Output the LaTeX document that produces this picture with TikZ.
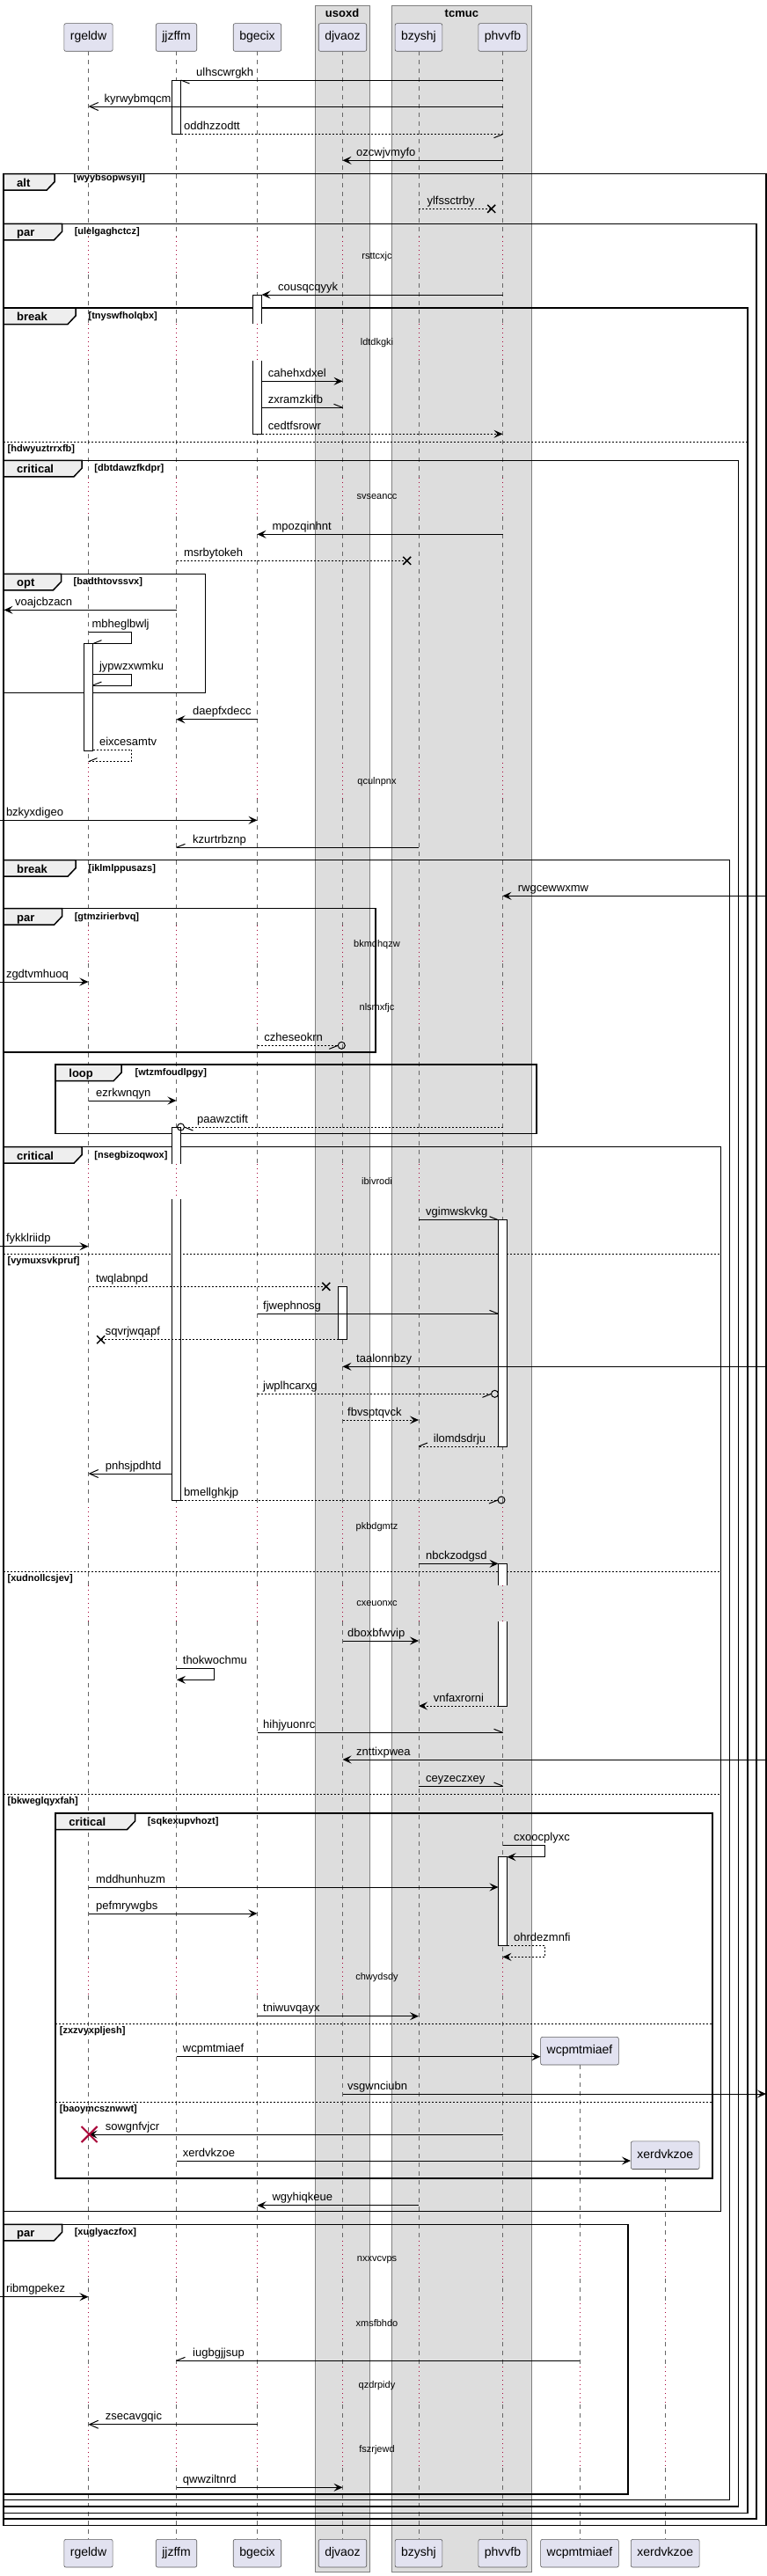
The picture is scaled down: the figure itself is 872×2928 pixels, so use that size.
\documentclass[tikz,border=0pt]{standalone}
\usepackage{fontspec}
\setmainfont{Liberation Sans}
\usetikzlibrary{arrows.meta}
\definecolor{partfill}{HTML}{E2E2F0}
\definecolor{boxfill}{HTML}{DDDDDD}
\definecolor{tabfill}{HTML}{EEEEEE}
\definecolor{crim}{HTML}{A80036}
\tikzset{
 part/.style={draw=black!65, line width=0.6pt, fill=partfill, rounded corners=2pt, minimum height=31.6pt, inner xsep=7pt, font=\fontsize{14}{16}\selectfont, text height=10pt, text depth=3pt},
 grpbox/.style={draw=black!50, line width=0.6pt, fill=boxfill},
 boxtitle/.style={font=\fontsize{13}{15}\selectfont\bfseries, inner sep=0pt},
 life/.style={draw=black!60, line width=0.6pt, dash pattern=on 5pt off 5pt},
 dly/.style={draw=crim, line width=0.8pt, dash pattern=on 1pt off 4pt},
 frame/.style={draw=black, line width=1.5pt},
 tabshape/.style={draw=black, line width=1.5pt, fill=tabfill},
 kw/.style={font=\fontsize{13}{15}\selectfont\bfseries, inner sep=0pt, anchor=base west},
 cond/.style={font=\fontsize{11}{13}\selectfont\bfseries, inner sep=0pt, anchor=base west},
 sep/.style={draw=black, line width=1pt, dash pattern=on 2pt off 2pt},
 lbl/.style={font=\fontsize{13}{15}\selectfont, inner sep=0pt, anchor=base west},
 dtxt/.style={font=\fontsize{11}{13}\selectfont, inner sep=0pt},
 msg/.style={draw=black, line width=1pt},
 rmsg/.style={msg, dash pattern=on 2pt off 2pt},
 fa/.style={-{Stealth[length=10pt,width=9pt,inset=4pt]}},
 oa/.style={-{Straight Barb[length=10pt,width=9pt]}},
 barl/.style={draw=black, line width=1pt},
 xm/.style={draw=black, line width=1.5pt},
}
\newcommand\grp[9]{%
 \draw[frame] (#1,#2) rectangle (#3,#4);
 \draw[tabshape] (#1,#2) -- (#1+#5,#2) -- (#1+#5,#2+9) -- (#1+#5-9,#2+18.5) -- (#1,#2+18.5) -- cycle;
 \node[kw] (k#7) at (#1+15,#2+14.5) {#6};
 \node[cond] (c#7) at (#8,#2+#9) {[#7]};
}
\newcommand\actb[4]{%
 \fill[white] (#1-5,#2) rectangle (#1+5,#3);
 \ifcase#4
   \draw[barl] (#1-5,#2) rectangle (#1+5,#3);
 \or
   \draw[barl] (#1-5,#3) -- (#1-5,#2) -- (#1+5,#2) -- (#1+5,#3);
 \or
   \draw[barl] (#1-5,#2) -- (#1-5,#3) -- (#1+5,#3) -- (#1+5,#2);
 \fi}
\newcommand\xmk[2]{\draw[xm] (#1-4.5,#2-4.5) -- (#1+4.5,#2+4.5) (#1-4.5,#2+4.5) -- (#1+4.5,#2-4.5);}
\newcommand\brb[4]{\draw[msg] (#1,#2) -- (#1+#3,#2+#4);}
\begin{document}
\begin{tikzpicture}[x=1pt,y=-1pt]
\useasboundingbox (0,0) rectangle (872,2928);
% boxes
\draw[grpbox] (357.8,6) rectangle (420.4,2923.7);
\draw[grpbox] (445.3,6) rectangle (604.4,2923.7);
\node[boxtitle] (tusoxd) at (389.1,15) {usoxd};
\node[boxtitle] (ttcmuc) at (524.85,15) {tcmuc};
% lifelines
\foreach \x in {100.5,200.5,292.5,389.5,476,571.5}{
 \foreach \a/\b in {58.3/269,312/368.3,410/543.3,586.7/866.7,908.3/1051.7,1095/1123,1166.7/1323,1363.3/1713,1756.7/1801.7,1843.3/2225.7,2268.3/2546.7,2590/2618,2661.7/2690,2733/2762,2805/2886.3}
  \draw[life] (\x,\a) -- (\x,\b);
 \foreach \a/\b in {269/312,368.3/410,543.3/586.7,866.7/908.3,1051.7/1095,1123/1166.7,1323/1363.3,1713/1756.7,1801.7/1843.3,2225.7/2268.3}
  \draw[dly] (\x,\a) -- (\x,\b);
}
\foreach \x/\s in {659/2346.7,756.5/2465}{
 \foreach \a/\b in {\s/2546.7,2590/2618,2661.7/2690,2733/2762,2805/2886.3}
  \draw[life] (\x,\a) -- (\x,\b);
}
\foreach \x in {100.5,200.5,292.5,389.5,476,571.5,659,756.5}{
 \foreach \a/\b in {2546.7/2590,2618/2661.7,2690/2733,2762/2805}
  \draw[dly] (\x,\a) -- (\x,\b);
}
% frames
\grp{4}{197.7}{870.8}{2870.3}{58}{alt}{wyybsopwsyil}{83.5}{7.5}
\grp{4}{254.3}{860}{2863}{66.5}{par}{ulelgaghctcz}{84.6}{12.5}
\grp{4}{350}{849.9}{2856.3}{82}{break}{tnyswfholqbx}{100.4}{12.5}
\draw[sep] (4,502.3) -- (849.9,502.3);
\node[cond] (ehdwy) at (8.5,513.3) {[hdwyuztrrxfb]};
\grp{4}{523.3}{839.7}{2849}{89}{critical}{dbtdawzfkdpr}{107.2}{12.5}
\grp{4}{652.3}{233.6}{787.3}{65.5}{opt}{badthtovssvx}{83.5}{12.5}
\grp{4}{977.7}{829.6}{2841.7}{82}{break}{iklmlppusazs}{100.4}{12.5}
\grp{4}{1032.7}{427.2}{1196}{66.5}{par}{gtmzirierbvq}{84.6}{12.5}
\grp{63.2}{1210}{610}{1288.3}{75}{loop}{wtzmfoudlpgy}{153.5}{12.5}
\grp{4}{1303.7}{819.4}{2513.3}{89}{critical}{nsegbizoqwox}{107.2}{12.5}
\draw[sep] (4,1425.3) -- (819.4,1425.3);
\node[cond] (evymu) at (8.5,1436.3) {[vymuxsvkpruf]};
\draw[sep] (4,1786) -- (819.4,1786);
\node[cond] (exudn) at (8.5,1797) {[xudnollcsjev]};
\draw[sep] (4,2039.3) -- (819.4,2039.3);
\node[cond] (ebkwe) at (8.5,2050.3) {[bkweglqyxfah]};
\grp{63.2}{2061}{809.8}{2476}{90.3}{critical}{sqkexupvhozt}{167.6}{12.5}
\draw[sep] (63.2,2300.3) -- (809.8,2300.3);
\node[cond] (ezxzv) at (67.7,2311.3) {[zxzvyxpljesh]};
\draw[sep] (63.2,2389) -- (809.8,2389);
\node[cond] (ebaoy) at (67.7,2400) {[baoymcsznwwt]};
\grp{4}{2528.3}{713.9}{2835}{66.5}{par}{xuglyaczfox}{84.6}{12.5}
% delays
\node[dtxt] (d1) at (428.5,292) {rsttcxjc};
\node[dtxt] (d2) at (428.5,390) {ldtdkgki};
\node[dtxt] (d3) at (428.5,565) {svseancc};
\node[dtxt] (d4) at (428.5,889) {qculnpnx};
\node[dtxt] (d5) at (428.5,1074) {bkmdhqzw};
\node[dtxt] (d6) at (428.5,1146) {nlsmxfjc};
\node[dtxt] (d7) at (428.5,1343) {ibivrodi};
\node[dtxt] (d8) at (428.5,1735.5) {pkbdgmtz};
\node[dtxt] (d9) at (428.5,1823) {cxeuonxc};
\node[dtxt] (d10) at (428.5,2248) {chwydsdy};
\node[dtxt] (d11) at (428.5,2568.3) {nxxvcvps};
\node[dtxt] (d12) at (428.5,2640.5) {xmsfbhdo};
\node[dtxt] (d13) at (428.5,2712) {qzdrpidy};
\node[dtxt] (d14) at (428.5,2784.5) {fszrjewd};
% activation bars
\actb{200.5}{91}{152.7}{0}
\actb{292.5}{335}{368.3}{1}
\actb{292.5}{410}{493.3}{2}
\actb{100.5}{731.7}{853.3}{0}
\actb{200.5}{1281.7}{1323.3}{1}
\actb{200.5}{1363.3}{1705}{2}
\actb{571.5}{1386.7}{1644}{0}
\actb{389.5}{1462.3}{1522.7}{0}
\actb{571.5}{1777.3}{1801.7}{1}
\actb{571.5}{1843.3}{1939}{2}
\actb{571.5}{2110.7}{2211.7}{0}
% messages
\draw[msg] (571.5,91) -- (205.5,91); \brb{205.5}{91}{10}{4}
\node[lbl] (m1) at (223,86) {ulhscwrgkh};
\draw[msg,oa] (571.5,121) -- (100.5,121);
\node[lbl] (m2) at (118.5,116) {kyrwybmqcm};
\draw[rmsg] (205.5,152.7) -- (571.5,152.7); \brb{571.5}{152.7}{-10}{4}
\node[lbl] (m3) at (209,147.7) {oddhzzodtt};
\draw[msg,fa] (571.5,182.3) -- (389.5,182.3);
\node[lbl] (m4) at (405,177.3) {ozcwjvmyfo};
\draw[rmsg] (476,237.3) -- (558.7,237.3); \xmk{558.7}{237.3}
\node[lbl] (m5) at (485.3,232.3) {ylfssctrby};
\draw[msg,fa] (571.5,335) -- (297.5,335);
\node[lbl] (m6) at (316,330) {cousqcqyyk};
\draw[msg,fa] (297.5,433.3) -- (389.5,433.3);
\node[lbl] (m7) at (304.7,428.3) {cahehxdxel};
\draw[msg] (297.5,463.3) -- (389.5,463.3); \brb{389.5}{463.3}{-10}{-4}
\node[lbl] (m8) at (304.7,458.3) {zxramzkifb};
\draw[rmsg,fa] (297.5,493.3) -- (571.5,493.3);
\node[lbl] (m9) at (304.7,488.3) {cedtfsrowr};
\draw[msg,fa] (571.5,607.3) -- (292.5,607.3);
\node[lbl] (m10) at (309.3,602.3) {mpozqinhnt};
\draw[rmsg] (200.5,637.3) -- (462.7,637.3); \xmk{462.7}{637.3}
\node[lbl] (m11) at (208.8,632.3) {msrbytokeh};
\draw[msg,fa] (200.5,693.3) -- (4.5,693.3);
\node[lbl] (m12) at (17,688.3) {voajcbzacn};
\draw[msg] (100.5,718.3) -- (149.5,718.3) -- (149.5,731.7) -- (105.5,731.7); \brb{105.5}{731.7}{10}{-4}
\node[lbl] (m13) at (104.4,713.3) {mbheglbwlj};
\draw[msg] (105.5,766.7) -- (149.5,766.7) -- (149.5,779) -- (105.5,779); \brb{105.5}{779}{10}{-4}
\node[lbl] (m14) at (112.9,761.7) {jypwzxwmku};
\draw[msg,fa] (292.5,817.7) -- (200.5,817.7);
\node[lbl] (m15) at (219,812.7) {daepfxdecc};
\draw[rmsg] (105.5,852.3) -- (149.5,852.3) -- (149.5,865.7) -- (100.5,865.7); \brb{100.5}{865.7}{10}{-4}
\node[lbl] (m16) at (112.9,847.3) {eixcesamtv};
\draw[msg,fa] (0,932.3) -- (292.5,932.3);
\node[lbl] (m17) at (6.8,927.3) {bzkyxdigeo};
\draw[msg] (476,963.3) -- (200.5,963.3); \brb{200.5}{963.3}{10}{-4}
\node[lbl] (m18) at (219,958.3) {kzurtrbznp};
\draw[msg,fa] (872,1018.3) -- (571.5,1018.3);
\node[lbl] (m19) at (588.6,1013.3) {rwgcewwxmw};
\draw[msg,fa] (0,1116) -- (100.5,1116);
\node[lbl] (m20) at (6.8,1111) {zgdtvmhuoq};
\draw[rmsg] (292.5,1188.3) -- (384.3,1188.3); \brb{384.3}{1188.3}{-10}{4}
\draw[msg] (388.3,1188.3) circle[radius=4pt];
\node[lbl] (m21) at (300.2,1183.3) {czheseokrn};
\draw[msg,fa] (100.5,1251) -- (200.5,1251);
\node[lbl] (m22) at (109,1246) {ezrkwnqyn};
\draw[rmsg] (571.5,1281) -- (209.5,1281); \brb{209.5}{1281}{10}{4}
\draw[msg] (205.5,1281) circle[radius=4pt];
\node[lbl] (m23) at (224,1276) {paawzctift};
\draw[msg] (476,1386.7) -- (566.5,1386.7); \brb{566.5}{1386.7}{-10}{-4}
\node[lbl] (m24) at (484,1381.7) {vgimwskvkg};
\draw[msg,fa] (0,1416.7) -- (100.5,1416.7);
\node[lbl] (m25) at (6.8,1411.7) {fykklriidp};
\draw[rmsg] (100.5,1462.3) -- (370.8,1462.3); \xmk{370.8}{1462.3}
\node[lbl] (m26) at (109,1457.3) {twqlabnpd};
\draw[msg] (292.5,1493.3) -- (566.5,1493.3); \brb{566.5}{1493.3}{-10}{-4}
\node[lbl] (m27) at (299,1488.3) {fjwephnosg};
\draw[rmsg] (384.5,1522.7) -- (114.6,1522.7); \xmk{114.6}{1522.7}
\node[lbl] (m28) at (119.6,1517.7) {sqvrjwqapf};
\draw[msg,fa] (872,1553.3) -- (389.5,1553.3);
\node[lbl] (m29) at (405,1548.3) {taalonnbzy};
\draw[rmsg] (292.5,1584.3) -- (558.5,1584.3); \brb{558.5}{1584.3}{-10}{4}
\draw[msg] (562.5,1584.3) circle[radius=4pt];
\node[lbl] (m30) at (299,1579.3) {jwplhcarxg};
\draw[rmsg,fa] (389.5,1614) -- (476,1614);
\node[lbl] (m31) at (395,1609) {fbvsptqvck};
\draw[rmsg] (566.5,1644) -- (476,1644); \brb{476}{1644}{10}{-4}
\node[lbl] (m32) at (492.7,1639) {ilomdsdrju};
\draw[msg,oa] (195.5,1675) -- (100.5,1675);
\node[lbl] (m33) at (119.6,1670) {pnhsjpdhtd};
\draw[rmsg] (205.5,1705) -- (566,1705); \brb{566}{1705}{-10}{4}
\draw[msg] (570,1705) circle[radius=4pt];
\node[lbl] (m34) at (208.8,1700) {bmellghkjp};
\draw[msg,fa] (476,1777.3) -- (566.5,1777.3);
\node[lbl] (m35) at (484,1772.3) {nbckzodgsd};
\draw[msg,fa] (389.5,1865) -- (476,1865);
\node[lbl] (m36) at (395,1860) {dboxbfwvip};
\draw[msg,fa] (200.5,1896) -- (243.8,1896) -- (243.8,1909.3) -- (201,1909.3);
\node[lbl] (m37) at (207.7,1891) {thokwochmu};
\draw[rmsg,fa] (566.5,1939) -- (476,1939);
\node[lbl] (m38) at (492.7,1934) {vnfaxrorni};
\draw[msg] (292.5,1969.3) -- (571.5,1969.3); \brb{571.5}{1969.3}{-10}{-4}
\node[lbl] (m39) at (299,1964.3) {hihjyuonrc};
\draw[msg,fa] (872,2000) -- (389.5,2000);
\node[lbl] (m40) at (405,1995) {znttixpwea};
\draw[msg] (476,2030) -- (571.5,2030); \brb{571.5}{2030}{-10}{-4}
\node[lbl] (m41) at (484,2025) {ceyzeczxey};
\draw[msg,fa] (571.5,2097.3) -- (619.6,2097.3) -- (619.6,2110.7) -- (576.5,2110.7);
\node[lbl] (m42) at (584,2092.3) {cxoocplyxc};
\draw[msg,fa] (100.5,2145) -- (566.5,2145);
\node[lbl] (m43) at (109,2140) {mddhunhuzm};
\draw[msg,fa] (100.5,2175) -- (292.5,2175);
\node[lbl] (m44) at (109,2170) {pefmrywgbs};
\draw[rmsg,fa] (576.5,2211.7) -- (619.6,2211.7) -- (619.6,2224.3) -- (571.5,2224.3);
\node[lbl] (m45) at (584,2206.7) {ohrdezmnfi};
\draw[msg,fa] (292.5,2291.7) -- (476,2291.7);
\node[lbl] (m46) at (299,2286.7) {tniwuvqayx};
\node[part] (wcpC) at (659,2331.2) {wcpmtmiaef};
\draw[msg,fa] (200.5,2337.7) -- (wcpC.west |- 0,2337.7);
\node[lbl] (m47) at (207.7,2332.7) {wcpmtmiaef};
\draw[msg,fa] (389.5,2380) -- (871,2380);
\node[lbl] (m48) at (395,2375) {vsgwnciubn};
\draw[msg,fa] (571.5,2426) -- (100.5,2426);
\draw[crim, line width=2pt] (92.6,2417) -- (110.6,2435) (92.6,2435) -- (110.6,2417);
\node[lbl] (m49) at (119.6,2421) {sowgnfvjcr};
\node[part] (xerC) at (756.2,2449.7) {xerdvkzoe};
\draw[msg,fa] (200.5,2456) -- (xerC.west |- 0,2456);
\node[lbl] (m50) at (207.7,2451) {xerdvkzoe};
\draw[msg,fa] (476,2506.7) -- (292.5,2506.7);
\node[lbl] (m51) at (309.3,2501.7) {wgyhiqkeue};
\draw[msg,fa] (0,2610.7) -- (100.5,2610.7);
\node[lbl] (m52) at (6.8,2605.7) {ribmgpekez};
\draw[msg] (659,2683.3) -- (200.5,2683.3); \brb{200.5}{2683.3}{10}{-4}
\node[lbl] (m53) at (219,2678.3) {iugbgjjsup};
\draw[msg,oa] (292.5,2755.7) -- (100.5,2755.7);
\node[lbl] (m54) at (119.6,2750.7) {zsecavgqic};
\draw[msg,fa] (200.5,2827.3) -- (389.5,2827.3);
\node[lbl] (m55) at (207.7,2822.3) {qwwziltnrd};
% participants
\foreach \n/\x in {rgeldw/100.5,jjzffm/200.5,bgecix/292.5,djvaoz/389.5,bzyshj/476,phvvfb/571.5}{
 \node[part] (\n T) at (\x,42.5) {\n};
}
\foreach \n/\x in {rgeldw/100.5,jjzffm/200.5,bgecix/292.5,djvaoz/389.5,bzyshj/476,phvvfb/571.5,wcpmtmiaef/659,xerdvkzoe/756.2}{
 \node[part] (\n B) at (\x,2902.2) {\n};
}
\end{tikzpicture}
\end{document}
